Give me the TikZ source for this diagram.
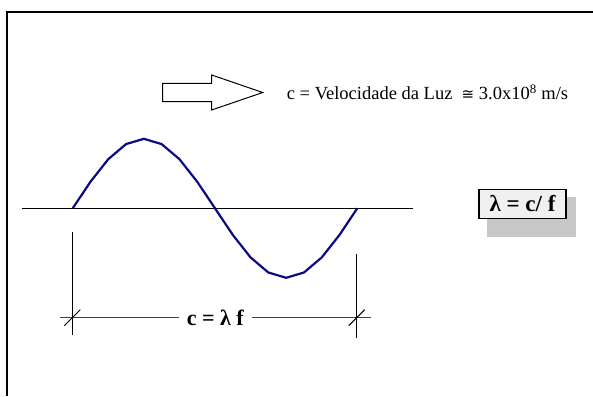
\documentclass[tikz,border=0pt]{standalone}
\usepackage{fontspec}
\setmainfont{Liberation Serif}
\newfontfamily\symfont{DejaVu Sans}
\usetikzlibrary{positioning}
\definecolor{wavenavy}{RGB}{10,10,130}
\begin{document}
\begin{tikzpicture}[
  x=1pt, y=-1pt,
  font=\fontsize{18.5}{22}\selectfont,
  frame/.style={line width=2.4pt},
  wave/.style={draw=wavenavy, line width=2.2pt, line join=round},
  guide/.style={line width=1pt},
  dimline/.style={line width=1.3pt, draw=black!75},
  dimlabel/.style={fill=white, inner xsep=8pt, font=\fontsize{22}{24}\selectfont\bfseries},
  formula/.style={draw, line width=1.1pt, fill=black!6, minimum width=87pt, minimum height=29pt, inner sep=0pt, font=\fontsize{23}{25}\selectfont\bfseries}
]
\useasboundingbox (0,0) rectangle (593,396);
\draw[frame] (593,12) -- (7,12) -- (7,396);

\draw[line width=1pt] (162.7,83.3) -- (211.7,83.3) -- (211.7,75) -- (262.7,92.5)
  -- (211.7,110) -- (211.7,101.7) -- (162.7,101.7) -- cycle;
\coordinate (tip) at (262.7,92.5);
\node[right=24pt of tip, inner sep=0pt] (speed) {c = Velocidade da Luz \ {\symfont\fontsize{15}{18}\selectfont ≅} 3.0x10\textsuperscript{8} m/s};

\draw[guide] (22,208.3) -- (413,208.3);
\draw[wave] plot[domain=0:360, samples=17] ({72.7+\x/360*284.6}, {208.3-69.5*sin(\x)});

\fill[black!22] (486.7,196.7) rectangle (576,236.7);
\node[formula] (ratio) at (522.5,203.8) {λ = c/ f};

\coordinate (tl) at (72.3,317.7);
\coordinate (tr) at (356.7,317.7);
\draw[guide] (72.3,231.7) -- (72.3,335);
\draw[guide] (356.7,254) -- (356.7,338);
\coordinate (dl) at (60,317.7);
\coordinate (dr) at (370.7,317.7);
\draw[dimline] (dl) -- node[dimlabel] (rel) {c = λ f} (dr);
\draw[guide] (tl) ++(-8,8) -- ++(16,-16);
\draw[guide] (tr) ++(-8,8) -- ++(16,-16);
\end{tikzpicture}
\end{document}
